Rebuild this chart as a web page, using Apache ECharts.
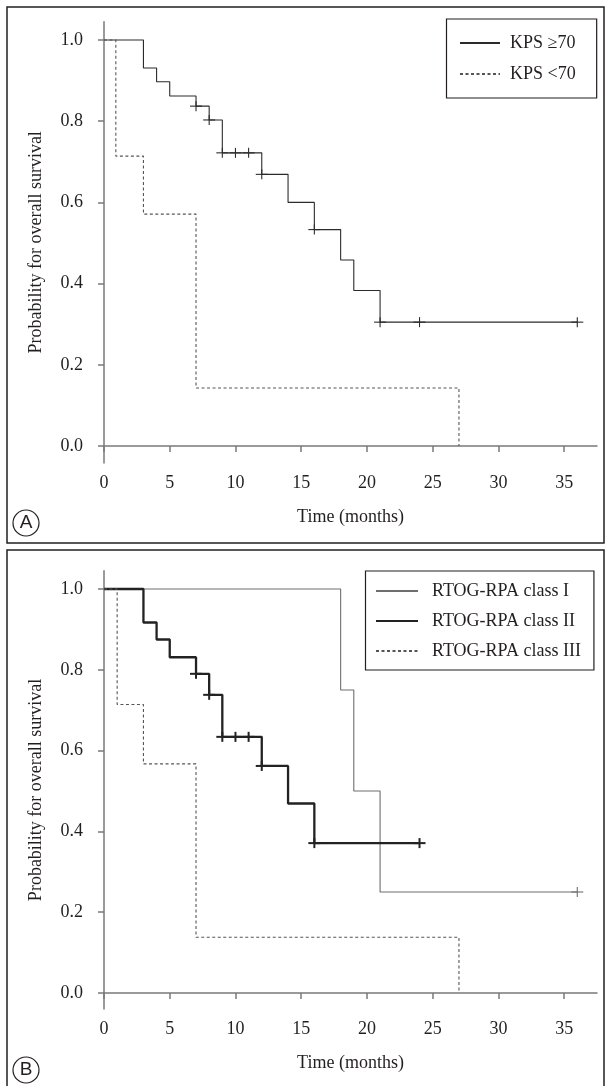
<!DOCTYPE html>
<html>
<head>
<meta charset="utf-8">
<script src="https://cdn.jsdelivr.net/npm/echarts@6/dist/echarts.min.js"></script>
<style>
  html, body { margin: 0; padding: 0; background: #fff; }
  #chart { width: 606px; height: 1086px; }
</style>
</head>
<body>
<div id="chart"></div>
<script>
// ---- Panel A: survival by Karnofsky performance status ----
const kpsHighTime = [0, 3, 4, 5, 7, 8, 9, 12, 14, 16, 18, 19, 21, 36];
const kpsHighSurv = [1, 0.931, 0.897, 0.862, 0.837, 0.803, 0.722, 0.669, 0.600, 0.533, 0.458, 0.383, 0.305, 0.305];
const kpsHighCensorTime = [7, 8, 9, 10, 11, 12, 16, 21, 24, 36];
const kpsHighCensorSurv = [0.837, 0.803, 0.722, 0.722, 0.722, 0.669, 0.533, 0.305, 0.305, 0.305];

const kpsLowTime = [0, 0.9, 3, 7, 27];
const kpsLowSurv = [1, 0.714, 0.571, 0.143, 0];

// ---- Panel B: survival by RTOG recursive partitioning analysis class ----
const rpa1Time = [0, 18, 19, 21, 36];
const rpa1Surv = [1, 0.75, 0.5, 0.25, 0.25];
const rpa1CensorTime = [36];
const rpa1CensorSurv = [0.25];

const rpa2Time = [0, 3, 4, 5, 7, 8, 9, 12, 14, 16, 24];
const rpa2Surv = [1, 0.917, 0.875, 0.831, 0.790, 0.738, 0.634, 0.562, 0.469, 0.371, 0.371];
const rpa2CensorTime = [7, 8, 9, 10, 11, 12, 16, 24];
const rpa2CensorSurv = [0.790, 0.738, 0.634, 0.634, 0.634, 0.562, 0.371, 0.371];

const rpa3Time = [0, 1, 3, 7, 27];
const rpa3Surv = [1, 0.714, 0.567, 0.138, 0];

// ---- Axis ticks and labels ----
const timeTicks = [0, 5, 10, 15, 20, 25, 30, 35];
const probTicks = [0, 0.2, 0.4, 0.6, 0.8, 1.0];
const xTitle = 'Time (months)';
const yTitle = 'Probability for overall survival';
const legendA = ['KPS \u226570', 'KPS <70'];
const legendB = ['RTOG-RPA class I', 'RTOG-RPA class II', 'RTOG-RPA class III'];

const INK = '#231f20';
const AXIS = '#7a7a7a';
const SERIF = '"Liberation Serif", "Times New Roman", serif';

function zip(t, s) { return t.map((v, i) => [v, s[i]]); }

function xAxisFor(gridIndex) {
  return {
    type: 'value', gridIndex, min: 0, max: 37.5,
    name: xTitle, nameLocation: 'middle', nameGap: 45,
    nameTextStyle: { fontFamily: SERIF, fontSize: 18, color: INK },
    axisLine: { show: true, lineStyle: { color: AXIS, width: 1.5 } },
    axisTick: { show: true, length: 6, customValues: timeTicks, lineStyle: { color: AXIS, width: 1.5 } },
    axisLabel: { customValues: timeTicks, margin: 11, fontFamily: SERIF, fontSize: 18, color: INK },
    splitLine: { show: false }
  };
}

function yAxisFor(gridIndex, min) {
  return {
    type: 'value', gridIndex, min, max: 1.045,
    name: yTitle, nameLocation: 'middle', nameGap: 59,
    nameTextStyle: { fontFamily: SERIF, fontSize: 18, color: INK },
    axisLine: { show: true, lineStyle: { color: AXIS, width: 1.5 } },
    axisTick: { show: true, length: 6, customValues: probTicks, lineStyle: { color: AXIS, width: 1.5 } },
    axisLabel: {
      customValues: probTicks, margin: 21, fontFamily: SERIF, fontSize: 18, color: INK,
      formatter: v => Number(v).toFixed(1)
    },
    splitLine: { show: false }
  };
}

function curve(name, t, s, idx, color, width, dashed) {
  return {
    type: 'line', name, xAxisIndex: idx, yAxisIndex: idx,
    data: zip(t, s), step: 'end', symbol: 'none', showSymbol: false, silent: true,
    lineStyle: { color, width, type: dashed ? [3, 2.5] : 'solid' },
    itemStyle: { color },
    z: 3
  };
}

// "+" marks for censored observations
function censors(t, s, idx, color, width) {
  return {
    type: 'custom', xAxisIndex: idx, yAxisIndex: idx, silent: true, z: 4,
    data: zip(t, s),
    renderItem(params, api) {
      const p = api.coord([api.value(0), api.value(1)]);
      const st = { stroke: color, lineWidth: width };
      return {
        type: 'group',
        children: [
          { type: 'line', shape: { x1: p[0] - 6, y1: p[1], x2: p[0] + 6, y2: p[1] }, style: st },
          { type: 'line', shape: { x1: p[0], y1: p[1] - 5, x2: p[0], y2: p[1] + 5 }, style: st }
        ]
      };
    }
  };
}

function panelBadge(letter, cy) {
  return [
    { type: 'circle', shape: { cx: 26, cy, r: 13 }, style: { fill: '#fff', stroke: INK, lineWidth: 1.2 }, z: 10 },
    { type: 'text', x: 26, y: cy, style: { text: letter, fontFamily: '"Liberation Sans", Arial, sans-serif', fontSize: 19, fill: INK, align: 'center', verticalAlign: 'middle' }, z: 11 }
  ];
}

// legend entries show only the line sample, no marker
const legendCommon = {
  orient: 'vertical', itemHeight: 14, selectedMode: false,
  borderColor: INK, borderWidth: 1.2,
  itemStyle: { color: 'rgba(0,0,0,0)', borderWidth: 0, opacity: 0 }
};

const chart = echarts.init(document.getElementById('chart'), null, { renderer: 'canvas' });

chart.setOption({
  animation: false,
  backgroundColor: '#fff',
  grid: [
    { left: 104, width: 493, top: 21.7, height: 441.3 },
    { left: 104, width: 493, top: 570.8, height: 438.2 }
  ],
  xAxis: [xAxisFor(0), xAxisFor(1)],
  yAxis: [yAxisFor(0, -0.0419), yAxisFor(1, -0.0396)],
  legend: [
    Object.assign({}, legendCommon, {
      data: legendA, left: 446.5, top: 19,
      padding: [14, 21, 14, 12.5], itemGap: 11, itemWidth: 40,
      textStyle: { fontFamily: SERIF, fontSize: 18, color: INK, lineHeight: 20, padding: [0, 0, 0, 5] }
    }),
    Object.assign({}, legendCommon, {
      data: legendB, left: 365.5, top: 571,
      padding: [10, 13, 9, 9.5], itemGap: 10, itemWidth: 42,
      textStyle: { fontFamily: SERIF, fontSize: 18, color: INK, lineHeight: 20, padding: [0, 0, 0, 9] }
    })
  ],
  series: [
    curve(legendA[0], kpsHighTime, kpsHighSurv, 0, '#2b2b2b', 1.1, false),
    curve(legendA[1], kpsLowTime, kpsLowSurv, 0, '#555555', 1.1, true),
    censors(kpsHighCensorTime, kpsHighCensorSurv, 0, '#2b2b2b', 1.1),

    curve(legendB[0], rpa1Time, rpa1Surv, 1, '#6e6e6e', 1.1, false),
    curve(legendB[1], rpa2Time, rpa2Surv, 1, '#222222', 2.3, false),
    curve(legendB[2], rpa3Time, rpa3Surv, 1, '#555555', 1.1, true),
    censors(rpa1CensorTime, rpa1CensorSurv, 1, '#6e6e6e', 1.1),
    censors(rpa2CensorTime, rpa2CensorSurv, 1, '#222222', 2)
  ],
  graphic: [
    { type: 'rect', shape: { x: 7, y: 7, width: 597, height: 536 }, style: { fill: 'none', stroke: INK, lineWidth: 1.5 }, z: 1 },
    { type: 'rect', shape: { x: 7, y: 550, width: 597, height: 560 }, style: { fill: 'none', stroke: INK, lineWidth: 1.5 }, z: 1 },
    ...panelBadge('A', 523),
    ...panelBadge('B', 1070)
  ]
});
</script>
</body>
</html>
